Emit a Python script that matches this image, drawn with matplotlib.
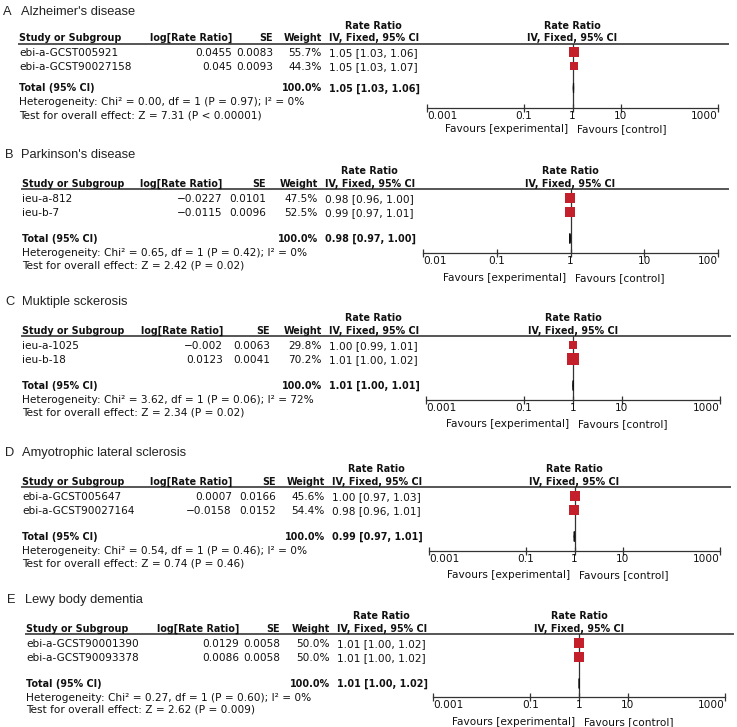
import matplotlib
matplotlib.use('Agg')
import matplotlib.pyplot as plt

# ---- data ----
panel_letters = ['A', 'B', 'C', 'D', 'E']
panel_titles = ["Alzheimer's disease", "Parkinson's disease", "Muktiple sckerosis",
                "Amyotrophic lateral sclerosis", "Lewy body dementia"]
study_names = [['ebi-a-GCST005921', 'ebi-a-GCST90027158'],
               ['ieu-a-812', 'ieu-b-7'],
               ['ieu-a-1025', 'ieu-b-18'],
               ['ebi-a-GCST005647', 'ebi-a-GCST90027164'],
               ['ebi-a-GCST90001390', 'ebi-a-GCST90093378']]
log_rr = [['0.0455', '0.045'], ['-0.0227', '-0.0115'], ['-0.002', '0.0123'],
          ['0.0007', '-0.0158'], ['0.0129', '0.0086']]
se = [['0.0083', '0.0093'], ['0.0101', '0.0096'], ['0.0063', '0.0041'],
      ['0.0166', '0.0152'], ['0.0058', '0.0058']]
weights = [[55.7, 44.3], [47.5, 52.5], [29.8, 70.2], [45.6, 54.4], [50.0, 50.0]]
rr = [[1.05, 1.05], [0.98, 0.99], [1.00, 1.01], [1.00, 0.98], [1.01, 1.01]]
ci_lo = [[1.03, 1.03], [0.96, 0.97], [0.99, 1.00], [0.97, 0.96], [1.00, 1.00]]
ci_hi = [[1.06, 1.07], [1.00, 1.01], [1.01, 1.02], [1.03, 1.01], [1.02, 1.02]]
total_rr = [1.05, 0.98, 1.01, 0.99, 1.01]
total_lo = [1.03, 0.97, 1.00, 0.97, 1.00]
total_hi = [1.06, 1.00, 1.01, 1.01, 1.02]
heterogeneity = ['Heterogeneity: Chi² = 0.00, df = 1 (P = 0.97); I² = 0%',
                 'Heterogeneity: Chi² = 0.65, df = 1 (P = 0.42); I² = 0%',
                 'Heterogeneity: Chi² = 3.62, df = 1 (P = 0.06); I² = 72%',
                 'Heterogeneity: Chi² = 0.54, df = 1 (P = 0.46); I² = 0%',
                 'Heterogeneity: Chi² = 0.27, df = 1 (P = 0.60); I² = 0%']
overall = ['Test for overall effect: Z = 7.31 (P < 0.00001)',
           'Test for overall effect: Z = 2.42 (P = 0.02)',
           'Test for overall effect: Z = 2.34 (P = 0.02)',
           'Test for overall effect: Z = 0.74 (P = 0.46)',
           'Test for overall effect: Z = 2.62 (P = 0.009)']
axis_ticks = [[0.001, 0.1, 1, 10, 1000], [0.01, 0.1, 1, 10, 100],
              [0.001, 0.1, 1, 10, 1000], [0.001, 0.1, 1, 10, 1000],
              [0.001, 0.1, 1, 10, 1000]]
axis_labels = [['0.001', '0.1', '1', '10', '1000'], ['0.01', '0.1', '1', '10', '100'],
               ['0.001', '0.1', '1', '10', '1000'], ['0.001', '0.1', '1', '10', '1000'],
               ['0.001', '0.1', '1', '10', '1000']]

# ---- layout (pixels) ----
W, H = 737, 727
title_y = [10, 153, 300, 451, 598]
letter_x = [3, 5, 5, 5, 7]
title_x = [21, 21, 22, 22, 25]
# x: study left, log right, SE right, weight right, CI left, axis left, axis right, line end
col_x = [[19, 232, 273, 322, 329, 427, 718, 728],
         [22, 222, 266, 318, 325, 423, 718, 728],
         [22, 223, 270, 322, 329, 426, 720, 730],
         [22, 232, 276, 325, 332, 429, 720, 730],
         [26, 239, 280, 330, 337, 433, 725, 733]]
# y offsets from the title: rate-ratio header, header row, header line, row 1, row 2
head_off = [[15.5, 27.5, 33.5, 42, 56]] + [[17.5, 30.5, 36, 45, 59]] * 4
# y offsets from the title: total, heterogeneity, test, favours, axis line
foot_off = [[78, 91, 105, 118, 98], [85.5, 99, 112, 124, 100], [85.5, 99, 112, 123, 100],
            [85.5, 99, 112, 123, 100], [85.5, 99, 111, 123, 99]]

RED = '#c4202b'
FS = 7.6
FS_BOLD = 6.9
FS_TITLE = 9.3
FONT = 'DejaVu Sans'

fig = plt.figure(figsize=(W / 100, H / 100), dpi=100)
base = fig.add_axes([0, 0, 1, 1])
base.set_xlim(0, W)
base.set_ylim(H, 0)
base.axis('off')


def txt(x, y, s, ha='left', bold=False):
    # y is the visual middle of the capitals; place the baseline below it
    size = FS_BOLD if bold else FS
    base.text(x, y + 0.365 * size * 100 / 72, s, ha=ha, va='baseline', fontsize=size,
              family=FONT, fontweight='bold' if bold else 'normal', color='#111111')


def title_txt(x, y, s):
    base.text(x, y + 0.358 * FS_TITLE * 100 / 72, s, ha='left', va='baseline',
              fontsize=FS_TITLE, family='Liberation Sans', color='#222222')


def fmt(s):
    return s.replace('-', '\u2212')


for p in range(5):
    y0 = title_y[p]
    sx, lx, sex, wx, cx, ax0, ax1, lend = col_x[p]
    rr_off, hdr_off, line_off, r1_off, r2_off = head_off[p]
    row_off = [r1_off, r2_off]
    tot_off, het_off, test_off, fav_off, axis_off = foot_off[p]

    # panel title
    title_txt(letter_x[p], y0, panel_letters[p])
    title_txt(title_x[p], y0, panel_titles[p])

    # headers
    txt(cx + 44, y0 + rr_off, 'Rate Ratio', ha='center', bold=True)
    txt(sx, y0 + hdr_off, 'Study or Subgroup', bold=True)
    txt(lx, y0 + hdr_off, 'log[Rate Ratio]', ha='right', bold=True)
    txt(sex, y0 + hdr_off, 'SE', ha='right', bold=True)
    txt(wx, y0 + hdr_off, 'Weight', ha='right', bold=True)
    txt(cx, y0 + hdr_off, 'IV, Fixed, 95% CI', bold=True)
    base.plot([sx, lend], [y0 + line_off, y0 + line_off], color='#555555', lw=1.4)

    # study rows
    for i in range(2):
        y = y0 + row_off[i]
        txt(sx, y, study_names[p][i])
        txt(lx, y, fmt(log_rr[p][i]), ha='right')
        txt(sex, y, se[p][i], ha='right')
        txt(wx, y, f'{weights[p][i]:.1f}%', ha='right')
        txt(cx, y, f'{rr[p][i]:.2f} [{ci_lo[p][i]:.2f}, {ci_hi[p][i]:.2f}]')

    # totals
    txt(sx, y0 + tot_off, 'Total (95% CI)', bold=True)
    txt(wx, y0 + tot_off, '100.0%', ha='right', bold=True)
    txt(cx, y0 + tot_off, f'{total_rr[p]:.2f} [{total_lo[p]:.2f}, {total_hi[p]:.2f}]', bold=True)
    txt(sx, y0 + het_off, heterogeneity[p])
    txt(sx, y0 + test_off, overall[p])

    # forest plot axes
    ax = fig.add_axes([ax0 / W, 1 - (y0 + axis_off) / H, (ax1 - ax0) / W,
                       (axis_off - line_off) / H])
    ax.set_xscale('log')
    ax.set_xlim(axis_ticks[p][0], axis_ticks[p][-1])
    ax.set_ylim(axis_off, line_off)
    ax.patch.set_alpha(0)
    for s in ['left', 'right', 'top']:
        ax.spines[s].set_visible(False)
    ax.spines['bottom'].set_color('#333333')
    ax.spines['bottom'].set_linewidth(0.9)
    ax.set_yticks([])
    ax.set_xticks(axis_ticks[p])
    ax.set_xticklabels(axis_labels[p], fontsize=FS, family=FONT, color='#111111')
    ax.minorticks_off()
    ax.tick_params(axis='x', direction='inout', length=6, width=0.9, color='#333333', pad=-1)
    labs = ax.get_xticklabels()
    labs[0].set_ha('left')
    labs[-1].set_ha('right')

    ax.axvline(1, color='#333333', lw=0.9, zorder=1)
    for i in range(2):
        y = row_off[i]
        ax.plot([ci_lo[p][i], ci_hi[p][i]], [y, y], color='#222222', lw=0.8, zorder=2)
        side_px = 1.35 * weights[p][i] ** 0.5
        ax.plot(rr[p][i], y, marker='s', ms=side_px * 0.72, color=RED, mew=0, zorder=3)
    ty = tot_off
    ax.fill([total_lo[p], total_rr[p], total_hi[p], total_rr[p]],
            [ty, ty - 5, ty, ty + 5], color='#111111', lw=0.8, edgecolor='#111111', zorder=3)

    # right header and favours labels
    one_x = ax0 + (ax1 - ax0) * 0.5
    txt(one_x, y0 + rr_off, 'Rate Ratio', ha='center', bold=True)
    txt(one_x, y0 + hdr_off, 'IV, Fixed, 95% CI', ha='center', bold=True)
    txt(one_x - 4, y0 + fav_off, 'Favours [experimental]', ha='right')
    txt(one_x + 5, y0 + fav_off, 'Favours [control]', ha='left')

fig.savefig('out.png', dpi=100)
